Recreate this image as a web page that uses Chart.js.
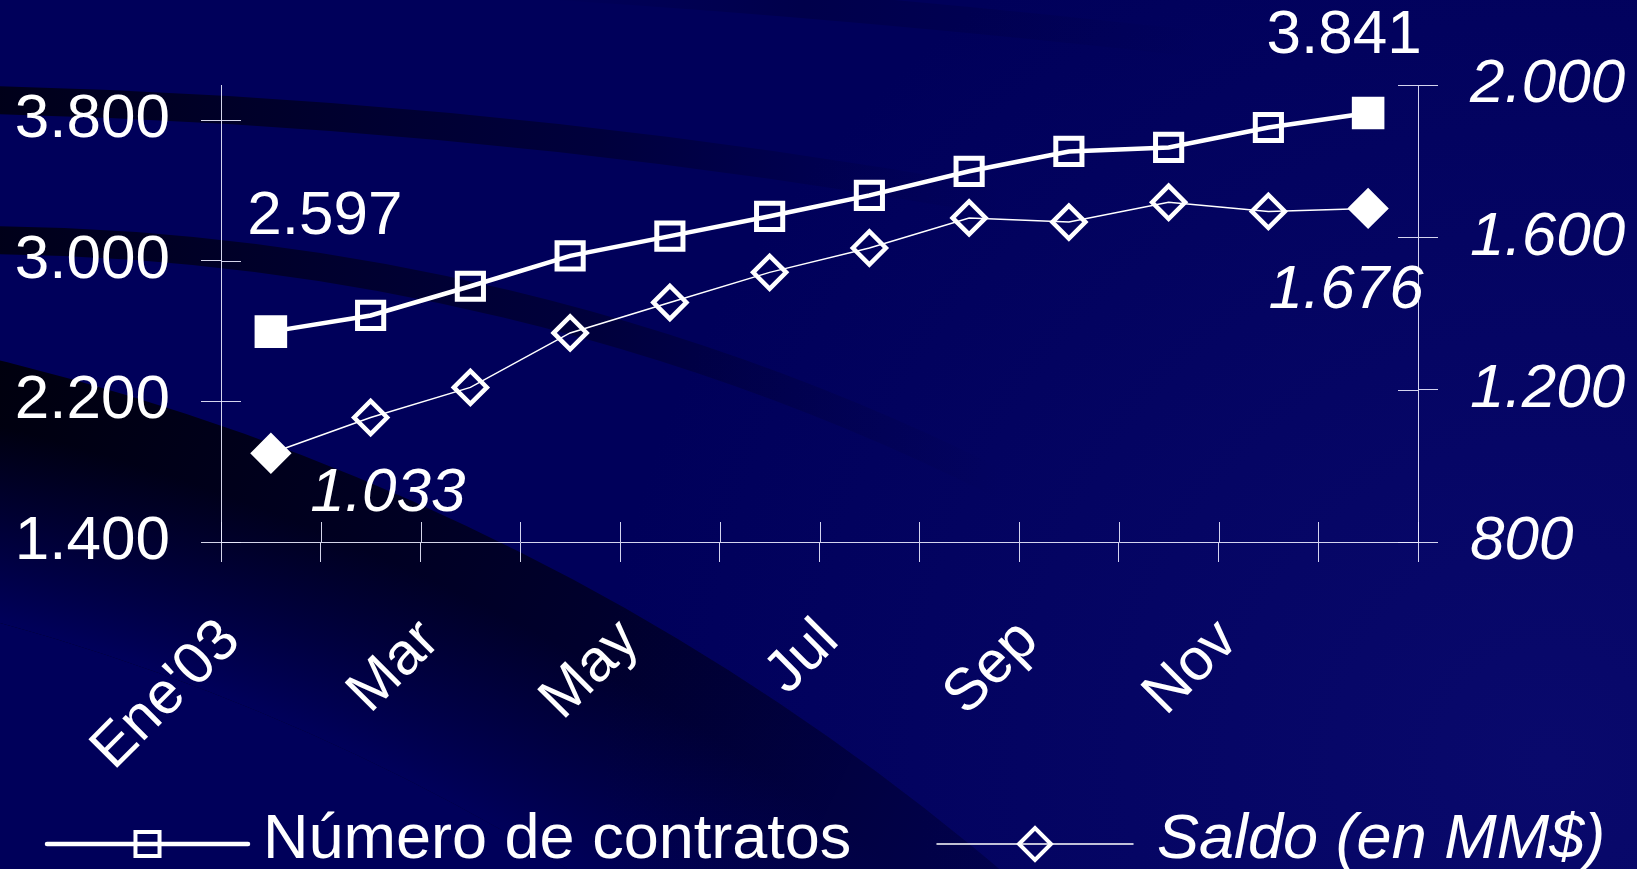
<!DOCTYPE html>
<html>
<head>
<meta charset="utf-8">
<title>Contratos y saldo 2003</title>
<script src="https://cdn.jsdelivr.net/npm/chart.js@4.4.1/dist/chart.umd.min.js"></script>
<style>
  html, body { margin: 0; padding: 0; background: #00005a; overflow: hidden; }
  #chart { display: block; }
</style>
</head>
<body>
<canvas id="chart" width="1637" height="869"></canvas>
<script>
// Datos
const months = ["Ene'03", "Feb", "Mar", "Abr", "May", "Jun", "Jul", "Ago", "Sep", "Oct", "Nov", "Dic"];
const contratos = [2597, 2689, 2855, 3028, 3140, 3253, 3372, 3509, 3622, 3645, 3758, 3841];
const saldo = [1033, 1127, 1206, 1349, 1429, 1508, 1572, 1651, 1640, 1692, 1668, 1676];
const leftTicks = [1400, 2200, 3000, 3800];
const rightTicks = [800, 1200, 1600, 2000];

const FONT = "'Liberation Sans', Arial, sans-serif";
const WHITE = "#ffffff";
const AXIS = "rgba(235,235,255,0.9)";

// 3800 -> "3.800"
function fmt(v) {
  return String(Math.round(v)).replace(/\B(?=(\d{3})+(?!\d))/g, ".");
}

const lastIdx = months.length - 1;
const isEnd = c => c.dataIndex === 0 || c.dataIndex === lastIdx;

// Background swooshes (template decoration)
const backdrop = {
  id: "backdrop",
  beforeDraw(chart) {
    const { ctx, width, height } = chart;
    ctx.save();
    ctx.fillStyle = "#00005a";
    ctx.fillRect(0, 0, width, height);

    let g = ctx.createRadialGradient(1550, 760, 0, 1550, 760, 950);
    g.addColorStop(0, "rgba(20,20,130,0.45)");
    g.addColorStop(1, "rgba(20,20,130,0)");
    ctx.fillStyle = g;
    ctx.fillRect(0, 0, width, height);

    // wide dark band, lower left
    ctx.save();
    ctx.beginPath();
    ctx.arc(-579, 2735, 2444, 0, Math.PI * 2);
    ctx.arc(-579, 2735, 2190, 0, Math.PI * 2, true);
    ctx.clip();
    g = ctx.createLinearGradient(0, 350, 1100, 869);
    g.addColorStop(0, "rgba(0,0,14,1)");
    g.addColorStop(0.55, "rgba(0,0,40,0.9)");
    g.addColorStop(1, "rgba(0,0,70,0.6)");
    ctx.fillStyle = g;
    ctx.fillRect(0, 0, width, height);
    g = ctx.createRadialGradient(-579, 2735, 2190, -579, 2735, 2444);
    g.addColorStop(0, "rgba(0,0,90,1)");
    g.addColorStop(0.75, "rgba(0,0,90,0)");
    g.addColorStop(1, "rgba(0,0,90,0)");
    ctx.fillStyle = g;
    ctx.fillRect(0, 0, width, height);
    ctx.restore();

    // thin bands fading to the right
    const band = (cx, cy, r, w, x1, a1) => {
      const s = ctx.createLinearGradient(0, 0, x1, 0);
      s.addColorStop(0, "rgba(0,0,22,0.95)");
      s.addColorStop(0.6, "rgba(0,0,40,0.6)");
      s.addColorStop(1, "rgba(0,0,60,0)");
      ctx.strokeStyle = s;
      ctx.lineWidth = w;
      ctx.beginPath();
      ctx.arc(cx, cy, r, Math.PI * 1.4, a1);
      ctx.stroke();
    };
    band(-176, 6838, 6740, 28, 1000, Math.PI * 1.6);
    band(-33, 2551, 2311, 28, 1000, Math.PI * 1.75);

    const t = ctx.createLinearGradient(540, 0, 1200, 0);
    t.addColorStop(0, "rgba(0,0,40,0)");
    t.addColorStop(0.4, "rgba(0,0,40,0.3)");
    t.addColorStop(1, "rgba(0,0,40,0)");
    ctx.strokeStyle = t;
    ctx.lineWidth = 26;
    ctx.beginPath();
    ctx.moveTo(540, -14);
    ctx.quadraticCurveTo(850, 5, 1200, 44);
    ctx.stroke();
    ctx.restore();
  }
};

// Short tick marks crossing into the plot area
const innerTicks = {
  id: "innerTicks",
  beforeDatasetsDraw(chart) {
    const { ctx, chartArea: a, scales } = chart;
    ctx.save();
    ctx.strokeStyle = AXIS;
    ctx.lineWidth = 1;
    ctx.beginPath();
    scales.y.ticks.forEach(t => {
      const y = Math.round(scales.y.getPixelForValue(t.value)) + 0.5;
      ctx.moveTo(a.left, y); ctx.lineTo(a.left + 20, y);
    });
    scales.y1.ticks.forEach(t => {
      const y = Math.round(scales.y1.getPixelForValue(t.value)) + 0.5;
      ctx.moveTo(a.right - 20, y); ctx.lineTo(a.right, y);
    });
    const step = (a.right - a.left) / months.length;
    for (let i = 0; i <= months.length; i++) {
      const x = Math.round(a.left + i * step) + 0.5;
      ctx.moveTo(x, a.bottom - 20); ctx.lineTo(x, a.bottom);
    }
    ctx.stroke();
    ctx.restore();
  }
};

// Value labels at the first and last points
const labelSpots = [
  { ds: 0, idx: 0, dx: 54, dy: -115 },
  { ds: 0, idx: lastIdx, dx: -24, dy: -77 },
  { ds: 1, idx: 0, dx: 117, dy: 40 },
  { ds: 1, idx: lastIdx, dx: -22, dy: 82 }
];
const endLabels = {
  id: "endLabels",
  afterDatasetsDraw(chart) {
    const ctx = chart.ctx;
    ctx.save();
    ctx.fillStyle = WHITE;
    ctx.textAlign = "center";
    ctx.textBaseline = "middle";
    labelSpots.forEach(s => {
      const el = chart.getDatasetMeta(s.ds).data[s.idx];
      const v = chart.data.datasets[s.ds].data[s.idx];
      ctx.font = (s.ds === 1 ? "italic " : "") + "62px " + FONT;
      ctx.fillText(fmt(v), el.x + s.dx, el.y + s.dy);
    });
    ctx.restore();
  }
};

// Legend row at the bottom: long line sample with its marker
const legendSpots = [
  { x0: 47, x1: 248, tx: 263 },
  { x0: 937, x1: 1133, tx: 1157 }
];
const legendRow = {
  id: "legendRow",
  afterDraw(chart) {
    const ctx = chart.ctx;
    const y = 844;
    chart.data.datasets.forEach((ds, i) => {
      const p = legendSpots[i];
      ctx.save();
      ctx.strokeStyle = WHITE;
      ctx.lineWidth = ds.borderWidth;
      ctx.lineCap = "round";
      ctx.beginPath();
      ctx.moveTo(p.x0, y); ctx.lineTo(p.x1, y);
      ctx.stroke();
      ctx.fillStyle = "rgba(0,0,0,0)";
      ctx.lineWidth = 4;
      Chart.helpers.drawPoint(ctx, {
        pointStyle: ds.pointStyle, radius: ds.legendRadius, borderWidth: 4, rotation: 0
      }, (p.x0 + p.x1) / 2, y);
      ctx.fillStyle = WHITE;
      ctx.font = (i === 1 ? "italic " : "") + "63px " + FONT;
      ctx.textAlign = "left";
      ctx.textBaseline = "alphabetic";
      ctx.fillText(ds.label, p.tx, 858);
      ctx.restore();
    });
  }
};

new Chart(document.getElementById("chart"), {
  type: "line",
  data: {
    labels: months,
    datasets: [
      {
        label: "Número de contratos",
        data: contratos,
        yAxisID: "y",
        borderColor: WHITE,
        borderWidth: 4.5,
        pointStyle: "rect",
        legendRadius: 17,
        pointRadius: c => isEnd(c) ? 19.5 : 18.5,
        pointBorderWidth: 5,
        pointBorderColor: WHITE,
        pointBackgroundColor: c => isEnd(c) ? WHITE : "rgba(0,0,0,0)",
        tension: 0
      },
      {
        label: "Saldo (en MM$)",
        data: saldo,
        yAxisID: "y1",
        borderColor: WHITE,
        borderWidth: 1.5,
        pointStyle: "rectRot",
        legendRadius: 16,
        pointRadius: c => isEnd(c) ? 17.5 : 16.5,
        pointBorderWidth: 4.5,
        pointBorderColor: WHITE,
        pointBackgroundColor: c => isEnd(c) ? WHITE : "rgba(0,0,0,0)",
        tension: 0
      }
    ]
  },
  options: {
    responsive: false,
    animation: false,
    layout: { padding: { top: 85, left: 0, right: 0, bottom: 0 } },
    plugins: {
      legend: { display: false },
      tooltip: { enabled: false }
    },
    scales: {
      x: {
        offset: true,
        grid: { display: true, offset: true, drawOnChartArea: false, color: AXIS, tickLength: 20, lineWidth: 1 },
        border: { display: true, color: AXIS, width: 1 },
        ticks: {
          autoSkip: false,
          maxRotation: 45,
          minRotation: 45,
          padding: 44,
          labelOffset: -40,
          color: WHITE,
          font: { family: FONT, size: 59 },
          callback: (v, i) => (i % 2 === 0 ? months[i] : "")
        },
        afterFit: s => { s.height = 869 - 542; }
      },
      y: {
        position: "left",
        min: 1400,
        max: 4000,
        afterBuildTicks: s => { s.ticks = leftTicks.map(v => ({ value: v })); },
        grid: { display: true, drawOnChartArea: false, color: AXIS, tickLength: 20 },
        border: { display: true, color: AXIS, width: 1 },
        ticks: {
          padding: 31,
          color: WHITE,
          font: { family: FONT, size: 62 },
          callback: v => fmt(v)
        },
        afterFit: s => { s.width = 221; }
      },
      y1: {
        position: "right",
        min: 800,
        max: 2000,
        afterBuildTicks: s => { s.ticks = rightTicks.map(v => ({ value: v })); },
        grid: { display: true, drawOnChartArea: false, color: AXIS, tickLength: 20 },
        border: { display: true, color: AXIS, width: 1 },
        ticks: {
          padding: 32,
          color: WHITE,
          font: { family: FONT, size: 62, style: "italic" },
          callback: v => fmt(v)
        },
        afterFit: s => { s.width = 1637 - 1418; }
      }
    }
  },
  plugins: [backdrop, innerTicks, endLabels, legendRow]
});
</script>
</body>
</html>
